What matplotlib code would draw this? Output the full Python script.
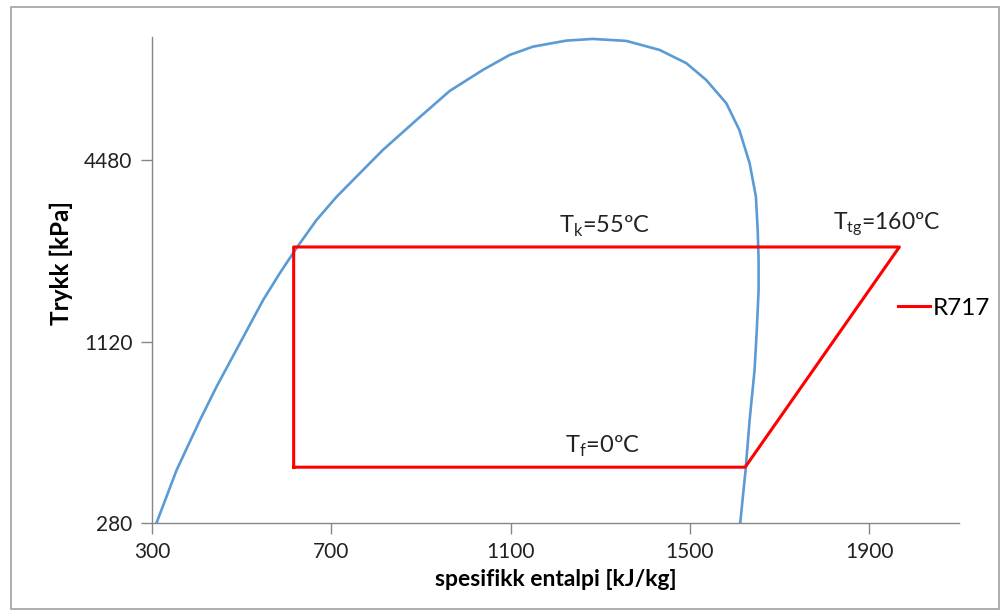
import matplotlib
matplotlib.use("Agg")
from matplotlib import pyplot as plt
from matplotlib.patches import Rectangle
from matplotlib.ticker import FixedLocator, FixedFormatter, NullLocator

plt.rcParams['font.family'] = ['Lato', 'DejaVu Sans']
plt.rcParams['mathtext.fontset'] = 'custom'
plt.rcParams['mathtext.rm'] = 'Lato'

# saturation dome
dome_h = [310, 355, 407, 444, 496, 548, 585, 622, 667, 712, 756, 815, 890, 964,
          1038, 1098, 1150, 1224, 1283, 1358, 1432, 1492, 1536, 1581, 1610, 1633,
          1647, 1651, 1653, 1653, 1649, 1644, 1633, 1624, 1612]
dome_p = [280, 420, 615, 794, 1106, 1541, 1890, 2288, 2840, 3394, 3955, 4851, 6101, 7616,
          8944, 10033, 10688, 11189, 11335, 11164, 10423, 9413, 8285, 6933, 5652, 4382,
          3394, 2631, 2092, 1663, 1225, 902, 615, 420, 280]

# R717 cycle
cycle_h = [616, 1623, 1967, 616, 616]
cycle_p = [429, 429, 2310, 2310, 429]

x_ticks = [300, 700, 1100, 1500, 1900]
y_ticks = [280, 1120, 4480]

fig = plt.figure(figsize=(10.02, 6.11), dpi=100)
ax = fig.add_axes([152 / 1002, 1 - 523 / 611, (959 - 152) / 1002, (523 - 36.7) / 611])

ax.plot(dome_h, dome_p, color='#5B9BD5', lw=1.9, solid_joinstyle='round')
ax.plot(cycle_h, cycle_p, color='#FF0000', lw=2.2, label='R717')

ax.set_yscale('log')
ax.set_xlim(300, 2100)
ax.set_ylim(280, 11530)
ax.xaxis.set_major_locator(FixedLocator(x_ticks))
ax.yaxis.set_major_locator(FixedLocator(y_ticks))
ax.yaxis.set_major_formatter(FixedFormatter([str(v) for v in y_ticks]))
ax.yaxis.set_minor_locator(NullLocator())

for s in ['top', 'right']:
    ax.spines[s].set_visible(False)
for s in ['left', 'bottom']:
    ax.spines[s].set_color('#868686')
    ax.spines[s].set_linewidth(1.0)
ax.tick_params(axis='both', direction='out', length=8, width=1.0, color='#868686',
               labelsize=15, labelcolor='#222222', pad=6)

ax.set_xlabel('spesifikk entalpi [kJ/kg]', fontsize=16.5, fontweight='bold', labelpad=5)
ax.set_ylabel('Trykk [kPa]', fontsize=17.5, fontweight='bold', labelpad=8)
ax.yaxis.label.set_y(0.535)

txt = dict(color='#222222', ha='center', va='bottom')
ax.text(1310, 2450, r'T$_\mathregular{k}$=55ºC', fontsize=17, **txt)
ax.text(1940, 2450, r'T$_\mathregular{tg}$=160ºC', fontsize=16.5, **txt)
ax.text(1305, 455, r'T$_\mathregular{f}$=0ºC', fontsize=17, **txt)

ax.legend(loc='center left', bbox_to_anchor=(898 / 1002, 1 - 308 / 611),
          bbox_transform=fig.transFigure, frameon=False, fontsize=17.5,
          handlelength=1.3, handletextpad=0.15, borderpad=0, borderaxespad=0)

fig.patches.append(Rectangle((11 / 1002, 1 - 609 / 611), 988 / 1002, 602 / 611,
                             transform=fig.transFigure, fill=False,
                             edgecolor='#A0A0A0', lw=1.2))

fig.savefig('out.png', dpi=100)
